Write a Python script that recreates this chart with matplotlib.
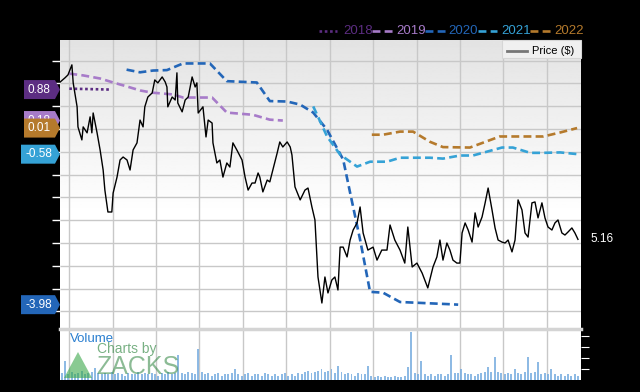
import numpy as np
import matplotlib.pyplot as plt
from matplotlib.lines import Line2D
from matplotlib.patches import Polygon, Rectangle

plt.rcParams['font.family'] = ['Liberation Sans', 'DejaVu Sans']

# time axis in quarters (gridline every quarter)
price_q = [-0.21, -0.10, -0.03, 0.06, 0.09, 0.18, 0.20, 0.29, 0.32, 0.41,
           0.48, 0.52, 0.55, 0.64, 0.71, 0.78, 0.82, 0.89, 0.98, 1.01,
           1.10, 1.17, 1.24, 1.33, 1.40, 1.47, 1.56, 1.63, 1.70, 1.74,
           1.81, 1.91, 1.97, 2.04, 2.14, 2.21, 2.25, 2.27, 2.37, 2.44,
           2.48, 2.50, 2.60, 2.67, 2.74, 2.83, 2.90, 2.94, 2.97, 3.08,
           3.15, 3.20, 3.29, 3.31, 3.40, 3.47, 3.54, 3.63, 3.70, 3.77,
           3.86, 3.98, 4.05, 4.12, 4.21, 4.28, 4.35, 4.39, 4.46, 4.56,
           4.62, 4.69, 4.79, 4.85, 4.92, 5.02, 5.09, 5.13, 5.20, 5.32,
           5.43, 5.50, 5.59, 5.66, 5.73, 5.82, 5.89, 5.96, 6.05, 6.12,
           6.19, 6.24, 6.31, 6.40, 6.47, 6.54, 6.63, 6.70, 6.77, 6.88,
           7.00, 7.09, 7.20, 7.32, 7.39, 7.50, 7.62, 7.73, 7.80, 7.90,
           8.01, 8.13, 8.26, 8.38, 8.47, 8.54, 8.61, 8.70, 8.77, 8.84,
           8.93, 9.00, 9.05, 9.12, 9.19, 9.28, 9.35, 9.42, 9.51, 9.58,
           9.65, 9.74, 9.81, 9.88, 9.97, 10.04, 10.11, 10.20, 10.27, 10.34,
           10.43, 10.50, 10.57, 10.66, 10.73, 10.80, 10.89, 10.96, 11.03, 11.12,
           11.19, 11.26, 11.35, 11.42, 11.49, 11.58, 11.65, 11.72]
price = [12.06, 12.24, 12.37, 12.81, 12.02, 10.97, 10.09, 9.52, 10.09, 9.83,
         10.53, 9.83, 10.70, 9.83, 9.08, 8.20, 7.32, 6.36, 6.36, 7.19,
         7.89, 8.64, 8.77, 8.64, 8.20, 9.08, 9.39, 10.39, 10.09, 10.97,
         11.40, 11.58, 12.15, 12.02, 12.28, 12.06, 11.84, 10.97, 11.40, 11.27,
         12.46, 11.14, 10.75, 11.27, 11.40, 12.28, 11.84, 12.02, 10.70, 10.97,
         9.65, 10.39, 10.26, 9.39, 8.51, 8.64, 7.89, 8.51, 8.33, 9.39,
         9.08, 8.64, 7.89, 7.32, 7.63, 7.63, 8.07, 7.89, 7.24, 7.76,
         7.68, 8.20, 8.95, 9.43, 9.21, 9.43, 9.21, 8.86, 7.46, 6.89,
         7.32, 7.41, 6.58, 6.01, 3.51, 2.37, 3.51, 2.81, 3.38, 3.51,
         2.94, 4.82, 4.82, 4.39, 5.13, 5.57, 5.88, 6.58, 5.44, 4.69,
         4.82, 4.25, 4.69, 4.69, 5.79, 5.13, 4.69, 4.12, 5.70, 3.95,
         4.12, 3.68, 3.03, 3.95, 4.39, 5.13, 4.25, 5.00, 4.69, 4.25,
         4.12, 4.12, 5.44, 5.88, 5.57, 5.04, 6.32, 5.70, 6.14, 6.75,
         7.41, 6.45, 5.66, 5.13, 5.04, 5.00, 5.13, 4.61, 5.13, 6.89,
         6.45, 5.44, 5.26, 6.76, 6.80, 6.10, 6.76, 6.10, 5.70, 5.57,
         5.88, 6.01, 5.44, 5.35, 5.48, 5.66, 5.44, 5.16]

# consensus EPS estimates per fiscal year
eps_2018_q = [0.0, 0.5, 0.94]
eps_2018 = [0.90, 0.89, 0.88]
eps_2019_q = [0.0, 0.32, 0.71, 1.01, 1.33, 1.63, 1.91, 2.39, 2.62, 3.29, 3.63, 4.23, 4.62, 4.92]
eps_2019 = [1.24, 1.20, 1.13, 1.04, 0.95, 0.86, 0.81, 0.77, 0.70, 0.70, 0.36, 0.31, 0.20, 0.18]
eps_2020_q = [1.32, 1.63, 1.93, 2.25, 2.62, 3.24, 3.63, 4.32, 4.62, 5.02, 5.32, 5.62, 5.94,
              6.31, 6.47, 6.70, 6.93, 7.23, 7.62, 8.77, 8.96]
eps_2020 = [1.33, 1.27, 1.31, 1.32, 1.47, 1.47, 1.07, 1.04, 0.62, 0.61, 0.54, 0.36, -0.03,
            -0.70, -1.45, -2.51, -3.69, -3.71, -3.92, -3.97, -3.98]
eps_2021_q = [5.62, 5.94, 6.24, 6.63, 6.93, 7.32, 7.62, 8.31, 8.61, 9.00, 9.30, 9.97, 10.22,
              10.62, 10.92, 11.31, 11.72]
eps_2021 = [0.50, -0.18, -0.59, -0.86, -0.75, -0.75, -0.66, -0.66, -0.68, -0.61, -0.61, -0.43,
            -0.43, -0.55, -0.55, -0.54, -0.58]
eps_2022_q = [6.97, 7.23, 7.62, 7.92, 8.31, 8.61, 9.23, 9.92, 10.92, 11.31, 11.70]
eps_2022 = [-0.14, -0.14, -0.07, -0.07, -0.30, -0.42, -0.43, -0.18, -0.18, -0.09, 0.01]

years = ['2018', '2019', '2020', '2021', '2022']
year_colors = ['#5c2d82', '#a77bc9', '#2366b8', '#35a2d6', '#b57a2c']

# weekly volume (arbitrary units)
volume = [0.6, 1.7, 0.5, 0.7, 0.5, 0.6, 0.8, 0.5, 0.6, 0.7, 1.1, 0.6, 0.5,
          0.6, 0.5, 0.7, 0.5, 0.6, 0.5, 0.4, 0.6, 0.5, 0.5, 0.7, 0.5, 0.6,
          0.5, 0.6, 0.5, 0.4, 0.6, 0.5, 0.7, 0.5, 0.6, 2.3, 0.6, 0.5, 0.7,
          0.6, 0.5, 2.8, 0.7, 0.5, 0.6, 0.4, 0.5, 0.6, 0.4, 0.5, 0.5, 0.6,
          1.0, 0.5, 0.4, 0.5, 0.6, 0.4, 0.5, 0.5, 0.4, 0.6, 0.5, 0.4, 0.5,
          0.4, 0.5, 0.6, 0.4, 0.5, 0.4, 0.6, 0.5, 0.7, 0.8, 0.6, 0.7, 0.8,
          1.0, 0.7, 0.8, 1.0, 0.6, 1.3, 0.7, 0.5, 0.6, 0.5, 0.4, 0.6, 0.5,
          0.5, 1.3, 0.4, 0.3, 0.4, 0.3, 0.4, 0.3, 0.3, 0.4, 0.3, 0.3, 0.4,
          1.2, 4.3, 0.6, 0.5, 1.7, 0.5, 0.4, 0.5, 0.4, 0.5, 0.5, 0.4, 0.5,
          2.3, 0.6, 0.6, 1.0, 0.6, 0.5, 0.5, 0.4, 0.5, 0.6, 0.7, 1.2, 0.7,
          2.1, 0.7, 0.6, 0.5, 0.6, 0.5, 1.0, 0.6, 0.5, 0.7, 2.1, 0.6, 0.7,
          1.6, 0.5, 0.6, 0.5, 1.0, 0.5, 0.4, 0.5, 0.4, 0.5, 0.4, 0.5, 0.4]

W, H = 640, 392
fig = plt.figure(figsize=(6.4, 3.92), dpi=100, facecolor='black')

x_lo, x_hi = -0.214, 11.79
ax = fig.add_axes([60 / W, (H - 329) / H, 521 / W, 289 / H])
ax.set_facecolor('white')

# light gray gradient at the top of the price panel
t = np.linspace(0, 1, 256)
shade = 0.89 + 0.11 * np.clip(t / 0.6, 0, 1)
ax.imshow(shade[:, None], cmap='gray', vmin=0, vmax=1, aspect='auto',
          extent=[0, 1, 0, 1], transform=ax.transAxes, zorder=0)
ax.set_axisbelow(True)
ax.grid(True, color='#c8c8c8', lw=1)
ax.set_xticks(range(12))
ax.set_yticks(range(2, 14))
ax.set_xticklabels([])
ax.yaxis.tick_right()
ax.tick_params(axis='x', length=0)
ax.tick_params(axis='y', colors='white', length=6, width=1, labelright=False)
for s in ax.spines.values():
    s.set_visible(False)

ax2 = ax.twinx()
ax2.set_yticks([])
ax2.tick_params(length=0)
for s in ax2.spines.values():
    s.set_visible(False)

eps_q = [eps_2018_q, eps_2019_q, eps_2020_q, eps_2021_q, eps_2022_q]
eps_v = [eps_2018, eps_2019, eps_2020, eps_2021, eps_2022]
for i in range(5):
    ls = (0, (1, 1)) if i == 0 else (0, (3, 1.6))
    ax2.plot(eps_q[i], eps_v[i], color=year_colors[i], lw=1.9, ls=ls)

ax.set_xlim(x_lo, x_hi)
ax.set_ylim(1.23, 13.90)
ax2.set_ylim(-4.53, 2.00)

ax2.plot(price_q, price, color='black', lw=1.0, transform=ax.transData, zorder=5)

ax.annotate('%.2f' % price[-1], xy=(1, price[-1]), xycoords=('axes fraction', 'data'),
            xytext=(7, 0), textcoords='offset points', color='white',
            fontsize=8.5, va='center', ha='left', annotation_clip=False)

# price legend box
fig.add_artist(Rectangle((502 / W, (H - 58) / H), 79 / W, 18 / H, transform=fig.transFigure,
                         facecolor='#f0f0f0', edgecolor='#d6d6d6', lw=0.8))
fig.add_artist(Line2D([507 / W, 527 / W], [(H - 50.5) / H] * 2, color='#777777', lw=2))
fig.text(532 / W, (H - 50.5) / H, 'Price ($)', fontsize=8, color='black', va='center')

# year legend on top
leg_y = (H - 30.5) / H
leg_items = [(319, 337, 343), (372, 393, 396), (425, 447, 448), (478, 497, 501), (530, 551, 554)]
for i, (a, b, c) in enumerate(leg_items):
    ls = (0, (1, 1)) if i == 0 else (0, (3, 1.6))
    fig.add_artist(Line2D([a / W, b / W], [leg_y, leg_y], color=year_colors[i], lw=1.9, ls=ls))
    fig.text(c / W, leg_y, years[i], color=year_colors[i], fontsize=9.5, va='center')

# value tags on the left, later tags drawn over earlier ones
fig.canvas.draw()
for i in [0, 1, 2, 3, 4]:
    val = eps_v[i][-1]
    yd = ax2.transData.transform((0, val))[1]
    lbl = '%.2f' % val
    left = 21 if lbl.startswith('-') else 24
    hh = 9.5
    verts = np.array([[left, yd - hh], [55, yd - hh], [60, yd], [55, yd + hh], [left, yd + hh]]) / 100.0
    fig.add_artist(Polygon(verts, closed=True, transform=fig.dpi_scale_trans,
                           facecolor=year_colors[i], edgecolor='none', zorder=10 + 2 * i))
    fig.text((left + 4) / W, yd / H, lbl, color='white', fontsize=8.5, va='center', ha='left',
             zorder=11 + 2 * i)

# volume panel
axv = fig.add_axes([60 / W, (H - 380) / H, 521 / W, 51 / H])
axv.set_facecolor('white')
vq = np.linspace(x_lo + 0.04, 11.72, len(volume))
axv.bar(vq, volume, width=0.045, color='#7aaee0', alpha=0.85, zorder=2)
axv.set_xlim(x_lo, x_hi)
axv.set_ylim(0, 4.6)
axv.set_xticks(range(12))
axv.set_yticks([1, 2, 3, 4])
axv.set_xticklabels([])
axv.grid(True, axis='x', color='#c8c8c8', lw=1, zorder=0)
axv.yaxis.tick_right()
axv.tick_params(axis='x', length=0)
axv.tick_params(axis='y', colors='white', length=6, labelright=False)
for s in axv.spines.values():
    s.set_visible(False)
axv.axhline(4.6, color='#d4d4d4', lw=2.5, clip_on=False)

fig.text(70 / W, (H - 339) / H, 'Volume', color='#2a7fd0', fontsize=9.5, va='center')
fig.text(97 / W, (H - 349) / H, 'Charts by', color='#3f8f4f', alpha=0.7, fontsize=10,
         va='center')
fig.text(96 / W, (H - 367) / H, 'ZACKS', color='#3f8f4f', alpha=0.6, fontsize=18, va='center')
tri = np.array([[64, H - 378], [92, H - 378], [78, H - 352]]) / 100.0
fig.add_artist(Polygon(tri, closed=True, transform=fig.dpi_scale_trans,
                       facecolor='#3aa84a', alpha=0.6, edgecolor='none'))

fig.savefig('out.png', dpi=100, facecolor='black')
